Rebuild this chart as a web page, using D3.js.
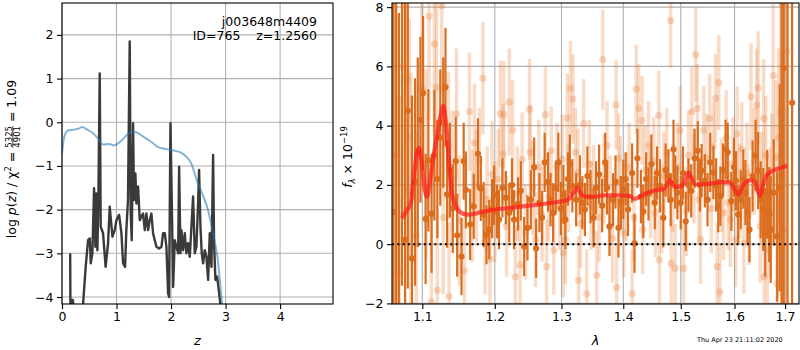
<!DOCTYPE html>
<html>
<head>
<meta charset="utf-8">
<script src="https://cdn.jsdelivr.net/npm/d3@7"></script>
<style>
body { margin: 0; background: #fff; }
text { font-family: "DejaVu Sans", sans-serif; }
</style>
</head>
<body>
<div id="chart"></div>
<script>
// ---- left panel: p(z) ----
var pzCurve = [
[0.15,-3.0],[0.155,-4.4],[0.17,-4.07],[0.2,-4.07],[0.22,-4.4],[0.37,-4.4],[0.386,-4.17],
[0.435,-3.3],[0.478,-2.7],[0.51,-2.66],[0.527,-3.23],[0.557,-3.0],[0.588,-1.51],[0.612,-2.85],
[0.63,-1.63],[0.649,-2.93],[0.667,-1.78],[0.692,1.12],[0.71,-2.39],[0.753,-2.54],[0.8,-3.31],
[0.845,-2.77],[0.875,-1.93],[0.925,-2.62],[0.967,-2.47],[0.998,-2.24],[1.047,-2.12],[1.09,-2.54],
[1.12,-3.23],[1.157,-3.31],[1.18,-2.47],[1.21,-1.78],[1.242,1.85],[1.26,-2.09],[1.279,-2.7],
[1.303,-0.02],[1.321,-1.78],[1.346,-1.17],[1.364,-1.86],[1.395,-1.47],[1.426,-2.24],[1.456,-2.16],
[1.487,-2.09],[1.518,-2.47],[1.548,-2.09],[1.579,-2.47],[1.609,-2.24],[1.64,-2.09],[1.67,-2.54],
[1.701,-2.7],[1.732,-2.85],[1.781,-2.89],[1.824,-2.85],[1.854,-2.54],[1.885,-2.54],[1.915,-2.85],
[1.946,-3.92],[1.964,-4.0],[1.989,-0.02],[2.013,-1.78],[2.038,-3.77],[2.068,-2.7],[2.099,-2.85],
[2.13,-3.0],[2.148,-1.02],[2.172,-3.0],[2.19,-2.47],[2.221,-2.93],[2.252,-2.54],[2.282,-3.0],
[2.313,-2.77],[2.343,-3.08],[2.374,-2.39],[2.404,-1.7],[2.435,-3.0],[2.465,-2.85],[2.496,-1.86],
[2.514,-1.09],[2.539,-2.39],[2.563,-3.0],[2.588,-3.23],[2.618,-2.93],[2.649,-3.08],[2.68,-3.61],
[2.71,-2.54],[2.741,-3.31],[2.771,-0.75],[2.789,-2.77],[2.814,-3.61],[2.845,-3.53],[2.875,-3.84],
[2.906,-4.17],[2.92,-4.8]
];
var chi2Curve = [
[0.0,-0.71],[0.03,-0.4],[0.07,-0.24],[0.11,-0.19],[0.2,-0.17],[0.3,-0.15],[0.37,-0.11],
[0.45,-0.16],[0.57,-0.25],[0.66,-0.37],[0.75,-0.51],[0.87,-0.5],[0.95,-0.53],[1.09,-0.42],
[1.21,-0.27],[1.27,-0.22],[1.36,-0.23],[1.49,-0.33],[1.58,-0.4],[1.67,-0.48],[1.76,-0.57],
[1.86,-0.6],[1.98,-0.63],[2.1,-0.66],[2.19,-0.7],[2.28,-0.79],[2.37,-0.94],[2.47,-1.32],
[2.56,-1.6],[2.68,-2.02],[2.77,-2.54],[2.85,-3.08],[2.93,-4.1],[2.95,-4.4]
];
var pzXTicks = [0, 1, 2, 3, 4];
var pzYTicks = [-4, -3, -2, -1, 0, 1, 2];

// ---- right panel: spectrum, rows are [lambda, flux, err] ----
var specDark = [
[1.0625,1.08,9.0],[1.066,9.5,12],[1.0695,-3.2,11],[1.0735,8.6,10],[1.0775,0.15,8.5],[1.081,4.5,6],
[1.0865,-0.48,5.5],[1.0905,2.1,3.5],[1.094,3.1,3.2],[1.0975,4.2,2.8],[1.101,5.1,2.6],[1.1044,0.85,2.2],
[1.108,2.83,2.4],[1.1123,1.03,2.0],[1.116,3.0,2.2],[1.12,2.2,2.0],[1.124,3.6,2.3],[1.128,4.1,2.2],
[1.131,5.3,2.0],[1.1332,1.68,1.8],[1.137,2.5,1.6],[1.141,1.2,1.5],[1.145,2.8,1.5],[1.147,0.3,1.4],
[1.153,-0.42,1.3],[1.156,2.8,1.3],[1.159,1.83,1.3],[1.165,0.66,1.2],[1.17,1.28,1.1],[1.176,3.05,1.2],
[1.18,1.88,1.1],[1.184,1.0,1.1],[1.188,0.32,1.0],[1.192,0.49,1.0],[1.196,1.2,1.0],[1.199,1.65,1.0],
[1.203,1.1,0.9],[1.206,0.83,1.0],[1.211,1.9,1.0],[1.216,1.57,0.9],[1.221,1.06,1.0],[1.225,2.0,0.9],
[1.228,0.83,1.0],[1.234,1.36,0.9],[1.238,1.8,1.0],[1.243,-0.08,1.0],[1.248,0.55,1.1],[1.253,1.5,1.0],
[1.258,2.6,1.0],[1.261,-0.14,1.0],[1.266,1.4,1.0],[1.27,0.9,0.9],[1.274,2.76,1.0],[1.279,2.1,1.0],
[1.283,1.5,0.9],[1.287,1.06,1.0],[1.291,1.9,0.9],[1.295,2.76,1.0],[1.299,1.2,0.9],[1.303,1.68,1.0],
[1.306,0.83,1.0],[1.31,2.2,0.9],[1.313,2.7,1.0],[1.317,1.97,0.9],[1.323,1.5,0.9],[1.329,2.0,1.0],
[1.333,1.4,0.9],[1.337,1.17,0.9],[1.341,2.3,1.0],[1.346,1.6,0.9],[1.351,0.89,1.0],[1.355,1.9,0.9],
[1.36,2.36,1.0],[1.365,1.3,0.9],[1.37,2.76,1.0],[1.373,1.9,0.9],[1.377,0.6,1.0],[1.383,1.5,0.9],
[1.387,2.1,0.9],[1.392,0.55,1.0],[1.396,1.4,0.9],[1.4,1.85,1.0],[1.404,2.2,0.9],[1.408,1.17,0.9],
[1.415,2.4,1.0],[1.419,0.03,1.0],[1.424,2.9,1.0],[1.43,1.6,0.9],[1.434,1.1,0.9],[1.439,2.2,0.9],
[1.443,1.7,0.9],[1.448,2.7,1.0],[1.454,1.4,0.9],[1.458,2.4,0.9],[1.463,1.97,0.9],[1.469,0.89,1.0],
[1.473,2.5,0.9],[1.478,2.3,0.9],[1.482,1.5,0.9],[1.487,3.2,1.0],[1.49,2.1,0.9],[1.494,1.74,0.9],
[1.5,1.4,0.9],[1.504,2.4,0.9],[1.509,0.77,1.0],[1.514,2.0,0.9],[1.519,1.8,0.9],[1.525,2.9,1.0],
[1.531,3.15,1.0],[1.535,2.0,0.9],[1.538,2.48,0.9],[1.544,2.14,0.9],[1.549,1.5,0.9],[1.554,2.76,1.0],
[1.56,2.42,0.9],[1.565,2.0,0.9],[1.569,1.3,0.9],[1.573,1.62,1.0],[1.578,2.5,0.9],[1.583,3.2,1.0],
[1.587,3.1,1.0],[1.594,1.45,1.0],[1.599,2.6,1.0],[1.603,2.14,1.0],[1.607,1.0,1.0],[1.612,1.5,1.0],
[1.617,2.2,1.0],[1.621,1.74,1.1],[1.625,1.1,1.1],[1.629,0.49,1.1],[1.635,2.3,1.2],[1.641,3.0,1.2],
[1.646,2.48,1.3],[1.651,1.5,1.3],[1.656,1.17,1.4],[1.66,0.4,1.5],[1.664,1.68,1.5],[1.668,1.0,1.6],
[1.671,0.49,1.8],[1.677,1.74,1.8],[1.684,0.26,2.2],[1.689,1.9,3.5],[1.693,2.3,6.0],[1.697,5.94,12],
[1.705,-3.0,12],[1.7145,4.77,12]
];
var specLight = [
[1.065,3.0,6],[1.07,-1.0,6],[1.075,6.0,5],[1.08,5.56,4],[1.083,3.6,4],[1.085,1.8,4],[1.092,0.3,3.5],
[1.0996,5.26,3.5],[1.105,2.7,3.2],[1.109,7.7,3.5],[1.112,-1.95,3],[1.116,6.76,3],[1.119,5.3,3],
[1.12,-1.55,2.8],[1.126,8.05,3],[1.128,0.9,2.6],[1.135,3.33,2.5],[1.136,-1.76,2.5],[1.14,2.2,2.3],
[1.146,4.4,2.2],[1.15,0.8,2.2],[1.157,-0.9,2],[1.164,4.47,2],[1.168,1.3,1.9],[1.171,3.42,2],
[1.174,1.97,1.9],[1.178,2.8,1.8],[1.183,5.6,1.9],[1.186,0.1,1.8],[1.189,1.5,1.8],[1.193,-0.5,1.8],
[1.196,2.36,1.8],[1.2,1.1,1.7],[1.205,2.2,1.7],[1.208,4.4,1.8],[1.212,3.05,1.7],[1.213,4.37,1.8],
[1.217,0.6,1.7],[1.221,4.8,1.8],[1.226,3.84,1.7],[1.23,-1.1,1.7],[1.233,1.7,1.6],[1.237,-0.7,1.6],
[1.24,2.85,1.6],[1.245,0.4,1.6],[1.251,4.55,1.7],[1.252,3.1,1.6],[1.256,1.9,1.6],[1.26,0.15,1.6],
[1.265,2.6,1.6],[1.27,1.0,1.6],[1.275,4.37,1.6],[1.277,-0.76,1.6],[1.28,1.6,1.5],[1.284,3.16,1.5],
[1.288,-0.2,1.5],[1.293,2.6,1.5],[1.297,1.3,1.5],[1.301,2.87,1.5],[1.303,-0.3,1.5],[1.306,0.15,1.5],
[1.309,4.26,1.5],[1.311,1.9,1.5],[1.314,5.26,1.6],[1.318,4.9,1.5],[1.322,3.1,1.5],[1.326,2.4,1.5],
[1.327,-1.22,1.5],[1.33,0.7,1.5],[1.335,4.07,1.5],[1.34,-1.67,1.5],[1.344,2.7,1.5],[1.347,1.3,1.5],
[1.351,1.85,1.5],[1.356,-1.05,1.5],[1.36,0.9,1.5],[1.366,6.23,1.7],[1.368,2.2,1.5],[1.373,3.33,1.5],
[1.378,1.5,1.5],[1.382,0.2,1.5],[1.388,4.7,1.5],[1.389,-1.47,1.5],[1.392,2.9,1.5],[1.395,2.14,1.5],
[1.401,0.375,1.5],[1.405,1.6,1.5],[1.41,2.6,1.5],[1.415,-1.67,1.5],[1.418,0.9,1.5],[1.422,5.23,1.5],
[1.426,4.58,1.5],[1.432,4.18,1.5],[1.433,0.49,1.5],[1.437,2.5,1.5],[1.443,3.33,1.5],[1.447,1.7,1.5],
[1.452,2.8,1.5],[1.455,1.06,1.5],[1.461,4.35,1.5],[1.462,-0.53,1.5],[1.466,1.2,1.5],[1.47,2.3,1.5],
[1.475,3.1,1.5],[1.482,7.55,1.6],[1.483,-0.65,1.5],[1.486,1.9,1.5],[1.49,-0.82,1.5],[1.494,2.6,1.5],
[1.499,3.84,1.5],[1.505,-0.82,1.5],[1.51,1.1,1.5],[1.514,3.0,1.5],[1.52,4.47,1.5],[1.524,2.2,1.5],
[1.527,6.4,1.6],[1.53,4.58,1.5],[1.533,1.5,1.5],[1.536,0.15,1.5],[1.542,3.84,1.5],[1.547,2.9,1.5],
[1.553,4.24,1.5],[1.556,1.2,1.5],[1.56,3.3,1.5],[1.564,4.92,1.5],[1.567,-0.76,1.5],[1.57,5.45,1.6],
[1.572,-1.61,1.6],[1.575,2.0,1.6],[1.579,1.06,1.6],[1.584,3.6,1.6],[1.588,1.4,1.6],[1.592,0.83,1.6],
[1.597,2.7,1.6],[1.602,0.15,1.6],[1.605,3.73,1.6],[1.61,1.8,1.6],[1.614,3.2,1.6],[1.618,0.03,1.7],
[1.624,2.4,1.7],[1.628,1.0,1.7],[1.632,4.98,1.8],[1.638,2.8,1.8],[1.643,4.7,1.9],[1.646,5.28,1.9],
[1.65,0.6,1.9],[1.653,1.9,1.9],[1.657,4.24,2.0],[1.658,-1.1,2.0],[1.661,3.0,2.0],[1.664,-0.19,2.1],
[1.67,1.06,2.2],[1.673,2.2,2.2],[1.676,5.7,2.4],[1.681,2.93,2.6],[1.684,-1.33,2.8],[1.687,3.6,3],
[1.691,4.47,4],[1.694,-1.33,5],[1.695,8.1,6],[1.698,0.5,8],[1.703,6.5,10]
];
var specModel = [
[1.0735,0.88],[1.08,1.15],[1.085,1.4],[1.089,2.3],[1.093,3.1],[1.0955,3.25],[1.099,2.8],
[1.103,1.9],[1.106,1.6],[1.11,2.1],[1.115,3.0],[1.12,3.7],[1.125,4.4],[1.128,4.68],[1.132,4.0],
[1.136,2.7],[1.14,1.7],[1.147,1.2],[1.155,1.03],[1.163,1.0],[1.17,1.02],[1.18,1.08],[1.2,1.17],
[1.22,1.22],[1.25,1.3],[1.28,1.38],[1.3,1.45],[1.31,1.5],[1.318,1.7],[1.325,1.9],[1.331,1.68],
[1.338,1.6],[1.35,1.6],[1.37,1.65],[1.39,1.65],[1.41,1.63],[1.42,1.53],[1.428,1.6],[1.44,1.72],
[1.455,1.82],[1.468,1.85],[1.475,2.0],[1.48,2.16],[1.486,2.0],[1.492,1.93],[1.5,1.95],[1.507,2.1],
[1.514,2.42],[1.52,2.2],[1.527,2.02],[1.54,2.02],[1.56,2.06],[1.58,2.1],[1.592,2.08],[1.6,1.85],
[1.608,1.67],[1.614,1.9],[1.622,2.1],[1.632,2.16],[1.64,2.1],[1.645,1.8],[1.65,1.62],[1.655,1.95],
[1.662,2.3],[1.672,2.45],[1.685,2.55],[1.695,2.6],[1.704,2.65]
];
var specXTicks = [1.1, 1.2, 1.3, 1.4, 1.5, 1.6, 1.7];
var specYTicks = [-2, 0, 2, 4, 6, 8];

var W = 800, H = 350;
var left = {x0: 62, x1: 333, y0: 3, y1: 304};
var right = {x0: 392, x1: 799, y0: 3, y1: 304};

var svg = d3.select("#chart").append("svg")
  .attr("width", W).attr("height", H);

var defs = svg.append("defs");
defs.append("clipPath").attr("id", "clipL").append("rect")
  .attr("x", left.x0).attr("y", left.y0)
  .attr("width", left.x1 - left.x0).attr("height", left.y1 - left.y0);
defs.append("clipPath").attr("id", "clipR").append("rect")
  .attr("x", right.x0).attr("y", right.y0)
  .attr("width", right.x1 - right.x0).attr("height", right.y1 - right.y0);

function styleAxis(g) {
  g.select(".domain").remove();
  g.selectAll(".tick line").attr("stroke", "#000").attr("stroke-width", 1.1);
  g.selectAll(".tick text").attr("font-size", "12.5px").attr("fill", "#000")
    .attr("font-family", "DejaVu Sans, sans-serif");
}

function gridLines(x, y, xt, yt, box) {
  var gg = svg.append("g").attr("stroke", "#b0b0b0").attr("stroke-width", 1.1);
  gg.selectAll(".gx").data(xt).enter().append("line")
    .attr("x1", function(d) { return x(d); }).attr("x2", function(d) { return x(d); })
    .attr("y1", box.y0).attr("y2", box.y1);
  gg.selectAll(".gy").data(yt).enter().append("line")
    .attr("y1", function(d) { return y(d); }).attr("y2", function(d) { return y(d); })
    .attr("x1", box.x0).attr("x2", box.x1);
}

// ================= left panel =================
var xL = d3.scaleLinear().domain([0, 4.97]).range([left.x0, left.x1]);
var yL = d3.scaleLinear().domain([-4.16, 2.73]).range([left.y1, left.y0]);

gridLines(xL, yL, pzXTicks, pzYTicks, left);

var lineL = d3.line().x(function(d) { return xL(d[0]); }).y(function(d) { return yL(d[1]); });
var plotL = svg.append("g").attr("clip-path", "url(#clipL)");
plotL.append("path").datum(pzCurve)
  .attr("d", lineL).attr("fill", "none")
  .attr("stroke", "#3a3a3a").attr("stroke-width", 2.4).attr("stroke-linejoin", "round");
plotL.append("path").datum(chi2Curve)
  .attr("d", lineL.curve(d3.curveMonotoneX)).attr("fill", "none")
  .attr("stroke", "#1f77b4").attr("stroke-opacity", 0.55).attr("stroke-width", 2);

svg.append("g").attr("transform", "translate(0," + left.y1 + ")")
  .call(d3.axisBottom(xL).tickValues(pzXTicks).tickFormat(d3.format("d")).tickSize(5).tickPadding(3.5))
  .call(styleAxis);
svg.append("g").attr("transform", "translate(" + left.x0 + ",0)")
  .call(d3.axisLeft(yL).tickValues(pzYTicks).tickFormat(d3.format("d")).tickSize(5).tickPadding(3.5))
  .call(styleAxis);

svg.append("rect").attr("x", left.x0).attr("y", left.y0)
  .attr("width", left.x1 - left.x0).attr("height", left.y1 - left.y0)
  .attr("fill", "none").attr("stroke", "#000").attr("stroke-width", 1.1);

svg.append("text").attr("x", 317).attr("y", 25.5).attr("text-anchor", "end")
  .attr("font-size", "12.5px").text("j003648m4409");
svg.append("text").attr("x", 317).attr("y", 39.5).attr("text-anchor", "end")
  .attr("font-size", "12.5px").style("white-space", "pre").text("ID=765    z=1.2560");

svg.append("text").attr("x", (left.x0 + left.x1) / 2).attr("y", 345)
  .attr("text-anchor", "middle").attr("font-size", "13px").attr("font-style", "italic").text("z");

// y label with a stacked fraction
var yl = svg.append("g").attr("transform", "translate(16,159) rotate(-90)");
var ylIn = yl.append("g");
var tA = ylIn.append("text").attr("font-size", "12.5px").style("white-space", "pre");
tA.append("tspan").text("log ");
tA.append("tspan").attr("font-style", "italic").text("p");
tA.append("tspan").text("(");
tA.append("tspan").attr("font-style", "italic").text("z");
tA.append("tspan").text(") / \u03c7");
tA.append("tspan").attr("font-size", "8.5px").attr("dy", -5).text("2");
tA.append("tspan").attr("dy", 5).text(" = ");
var lenA = tA.node().getComputedTextLength();
var num = ylIn.append("text").attr("font-size", "8.5px").attr("x", lenA).attr("y", -4.2).text("5325");
var den = ylIn.append("text").attr("font-size", "8.5px").attr("x", lenA).attr("y", 3.6).text("4901");
var fracW = Math.max(num.node().getComputedTextLength(), den.node().getComputedTextLength());
ylIn.append("line").attr("x1", lenA).attr("x2", lenA + fracW)
  .attr("y1", -3.2).attr("y2", -3.2).attr("stroke", "#000").attr("stroke-width", 0.7);
var tB = ylIn.append("text").attr("font-size", "12.5px").style("white-space", "pre")
  .attr("x", lenA + fracW).text(" = 1.09");
var total = lenA + fracW + tB.node().getComputedTextLength();
ylIn.attr("transform", "translate(" + (-total / 2) + ",0)");

// ================= right panel =================
var xR = d3.scaleLog().domain([1.0607, 1.7287]).range([right.x0, right.x1]);
var yR = d3.scaleLinear().domain([-2.02, 8.14]).range([right.y1, right.y0]);

gridLines(xR, yR, specXTicks, specYTicks, right);

var plotR = svg.append("g").attr("clip-path", "url(#clipR)");
var orange = "#db6d1e";

// light spectrum
var gl = plotR.append("g");
gl.selectAll("line").data(specLight).enter().append("line")
  .attr("x1", function(d) { return xR(d[0]); }).attr("x2", function(d) { return xR(d[0]); })
  .attr("y1", function(d) { return yR(d[1] - d[2]); }).attr("y2", function(d) { return yR(d[1] + d[2]); })
  .attr("stroke", "#e8823a").attr("stroke-opacity", 0.28).attr("stroke-width", 3.5);
gl.selectAll("circle").data(specLight).enter().append("circle")
  .attr("cx", function(d) { return xR(d[0]); }).attr("cy", function(d) { return yR(d[1]); })
  .attr("r", 3.6).attr("fill", "#e8823a").attr("fill-opacity", 0.3);

// main spectrum
var gd = plotR.append("g");
gd.selectAll("line").data(specDark).enter().append("line")
  .attr("x1", function(d) { return xR(d[0]); }).attr("x2", function(d) { return xR(d[0]); })
  .attr("y1", function(d) { return yR(d[1] - d[2]); }).attr("y2", function(d) { return yR(d[1] + d[2]); })
  .attr("stroke", orange).attr("stroke-width", 2.2);
gd.selectAll("circle").data(specDark).enter().append("circle")
  .attr("cx", function(d) { return xR(d[0]); }).attr("cy", function(d) { return yR(d[1]); })
  .attr("r", 3.1).attr("fill", orange);

// model
plotR.append("path").datum(specModel)
  .attr("d", d3.line().curve(d3.curveMonotoneX)
    .x(function(d) { return xR(d[0]); }).y(function(d) { return yR(d[1]); }))
  .attr("fill", "none").attr("stroke", "#ff1a1a").attr("stroke-opacity", 0.7)
  .attr("stroke-width", 4.2).attr("stroke-linejoin", "round");

// zero line
svg.append("line").attr("x1", right.x0).attr("x2", right.x1)
  .attr("y1", yR(0)).attr("y2", yR(0))
  .attr("stroke", "#000").attr("stroke-width", 2).attr("stroke-dasharray", "2,3.3");

svg.append("g").attr("transform", "translate(0," + right.y1 + ")")
  .call(d3.axisBottom(xR).tickValues(specXTicks).tickFormat(d3.format(".1f")).tickSize(5).tickPadding(3.5))
  .call(styleAxis);
svg.append("g").attr("transform", "translate(" + right.x0 + ",0)")
  .call(d3.axisLeft(yR).tickValues(specYTicks).tickFormat(d3.format("d")).tickSize(5).tickPadding(3.5))
  .call(styleAxis);

svg.append("rect").attr("x", right.x0).attr("y", right.y0)
  .attr("width", right.x1 - right.x0).attr("height", right.y1 - right.y0)
  .attr("fill", "none").attr("stroke", "#000").attr("stroke-width", 1.1);

svg.append("text").attr("x", (right.x0 + right.x1) / 2).attr("y", 345)
  .attr("text-anchor", "middle").attr("font-size", "13px").attr("font-style", "italic").text("\u03bb");

var yr = svg.append("text").attr("transform", "translate(352,157) rotate(-90)")
  .attr("text-anchor", "middle").attr("font-size", "12.5px");
yr.append("tspan").attr("font-style", "italic").text("f");
yr.append("tspan").attr("font-size", "8.5px").attr("font-style", "italic").attr("dy", 3).text("\u03bb");
yr.append("tspan").attr("dy", -3).style("white-space", "pre").text(" \u00d7 10");
yr.append("tspan").attr("font-size", "8.5px").attr("dy", -5).text("\u221219");

svg.append("text").attr("x", 697).attr("y", 342).attr("font-size", "6.5px")
  .text("Thu Apr 23 21:11:02 2020");
</script>
</body>
</html>
